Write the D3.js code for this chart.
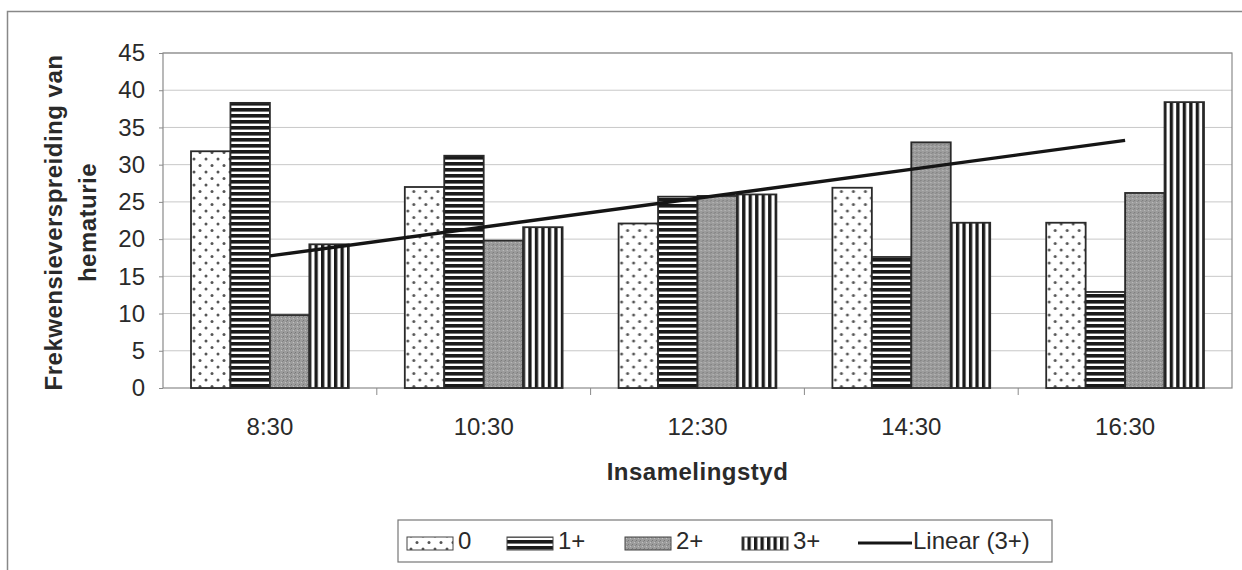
<!DOCTYPE html>
<html>
<head>
<meta charset="utf-8">
<script src="https://cdn.jsdelivr.net/npm/d3@7/dist/d3.min.js"></script>
<style>
  html, body { margin: 0; padding: 0; background: #fff; }
  svg { display: block; }
  text { font-family: "Liberation Sans", Arial, sans-serif; fill: #2a2a2a; }
</style>
</head>
<body>
<svg id="chart" width="1242" height="570"></svg>
<script>
// ---- data ----
const categories = ["8:30", "10:30", "12:30", "14:30", "16:30"];
const seriesNames = ["0", "1+", "2+", "3+"];
const values0 = [31.8, 27.0, 22.1, 26.9, 22.2];
const values1 = [38.3, 31.2, 25.7, 17.6, 12.9];
const values2 = [9.8, 19.8, 25.8, 33.0, 26.2];
const values3 = [19.3, 21.6, 26.0, 22.2, 38.4];
const yTicks = [0, 5, 10, 15, 20, 25, 30, 35, 40, 45];
const yTitleLines = ["Frekwensieverspreiding van", "hematurie"];
const xTitle = "Insamelingstyd";
const trendLabel = "Linear (3+)";

const seriesValues = [values0, values1, values2, values3];

// ---- layout ----
const svg = d3.select("#chart");
const plot = { left: 163, right: 1232, top: 53, bottom: 388 };

const defs = svg.append("defs");
// dots pattern (0)
const pDots = defs.append("pattern").attr("id", "pDots").attr("patternUnits", "userSpaceOnUse")
  .attr("width", 12).attr("height", 13);
pDots.append("rect").attr("width", 12).attr("height", 13).attr("fill", "#fff");
pDots.append("circle").attr("cx", 3).attr("cy", 3).attr("r", 1.5).attr("fill", "#555");
pDots.append("circle").attr("cx", 9).attr("cy", 9.5).attr("r", 1.5).attr("fill", "#555");
// horizontal stripes (1+)
const pH = defs.append("pattern").attr("id", "pH").attr("patternUnits", "userSpaceOnUse")
  .attr("width", 8).attr("height", 6);
pH.append("rect").attr("width", 8).attr("height", 6).attr("fill", "#fff");
pH.append("rect").attr("y", 0).attr("width", 8).attr("height", 3.6).attr("fill", "#1a1a1a");
// gray texture (2+)
const pG = defs.append("pattern").attr("id", "pG").attr("patternUnits", "userSpaceOnUse")
  .attr("width", 4).attr("height", 4);
pG.append("rect").attr("width", 4).attr("height", 4).attr("fill", "#9c9c9c");
pG.append("rect").attr("x", 0).attr("y", 0).attr("width", 1).attr("height", 1).attr("fill", "#777");
pG.append("rect").attr("x", 2).attr("y", 2).attr("width", 1).attr("height", 1).attr("fill", "#c0c0c0");
pG.append("rect").attr("x", 3).attr("y", 1).attr("width", 1).attr("height", 1).attr("fill", "#858585");
// vertical stripes (3+)
const pV = defs.append("pattern").attr("id", "pV").attr("patternUnits", "userSpaceOnUse")
  .attr("width", 6.5).attr("height", 8);
pV.append("rect").attr("width", 6.5).attr("height", 8).attr("fill", "#fff");
pV.append("rect").attr("x", 0).attr("width", 3.3).attr("height", 8).attr("fill", "#1a1a1a");

const fills = ["url(#pDots)", "url(#pH)", "url(#pG)", "url(#pV)"];

// outer chart border
svg.append("rect").attr("x", 7.5).attr("y", 11.5).attr("width", 1260).attr("height", 600)
  .attr("fill", "none").attr("stroke", "#888").attr("stroke-width", 1.5);

// scales
const x = d3.scaleBand().domain(categories).range([plot.left, plot.right])
  .paddingInner(0.262).paddingOuter(0.131);
const xs = d3.scaleBand().domain(seriesNames).range([0, x.bandwidth()]);
const y = d3.scaleLinear().domain([0, 45]).range([plot.bottom, plot.top]);

// gridlines
svg.append("g").selectAll("line").data(yTicks.filter(d => d > 0)).join("line")
  .attr("x1", plot.left).attr("x2", plot.right)
  .attr("y1", d => y(d)).attr("y2", d => y(d))
  .attr("stroke", "#c8c8c8").attr("stroke-width", 1);

// plot frame
svg.append("rect").attr("x", plot.left).attr("y", plot.top)
  .attr("width", plot.right - plot.left).attr("height", plot.bottom - plot.top)
  .attr("fill", "none").attr("stroke", "#8a8a8a").attr("stroke-width", 1.2);

// bars
const groups = svg.append("g").selectAll("g").data(categories).join("g")
  .attr("transform", c => `translate(${x(c)},0)`);
groups.selectAll("rect").data((c, i) => seriesNames.map((s, j) => ({ s, j, v: seriesValues[j][i] })))
  .join("rect")
  .attr("x", d => xs(d.s))
  .attr("width", xs.bandwidth())
  .attr("y", d => y(d.v))
  .attr("height", d => y(0) - y(d.v))
  .attr("fill", d => fills[d.j])
  .attr("stroke", "#2a2a2a").attr("stroke-width", 1.8);

// trend line (linear regression on 3+)
const n = values3.length;
const xsIdx = values3.map((_, i) => i + 1);
const mx = d3.mean(xsIdx), my = d3.mean(values3);
const slope = d3.sum(xsIdx.map((xi, i) => (xi - mx) * (values3[i] - my))) /
              d3.sum(xsIdx.map(xi => (xi - mx) * (xi - mx)));
const intercept = my - slope * mx;
const trendPts = [1, n].map(k => [x(categories[k - 1]) + x.bandwidth() / 2, y(intercept + slope * k)]);
svg.append("path").attr("d", d3.line()(trendPts))
  .attr("stroke", "#151515").attr("stroke-width", 3.4).attr("fill", "none");

// y axis
const yAxis = d3.axisLeft(y).tickValues(yTicks).tickSize(4).tickPadding(14);
const gy = svg.append("g").attr("transform", `translate(${plot.left},0)`).call(yAxis);
gy.select(".domain").remove();
gy.selectAll("line").attr("stroke", "#8a8a8a");
gy.selectAll("text").style("font-size", "24px").attr("fill", "#2a2a2a")
  .style("font-family", "'Liberation Sans', Arial, sans-serif");

// x axis
const xAxis = d3.axisBottom(x).tickSize(0).tickPadding(30);
const gx = svg.append("g").attr("transform", `translate(0,${plot.bottom})`).call(xAxis);
gx.select(".domain").remove();
gx.selectAll("text").style("font-size", "24px").attr("fill", "#2a2a2a")
  .style("font-family", "'Liberation Sans', Arial, sans-serif");
// category boundary ticks
svg.append("g").selectAll("line").data(categories.slice(1)).join("line")
  .attr("x1", c => x(c) - x.step() * x.paddingInner() / 2)
  .attr("x2", c => x(c) - x.step() * x.paddingInner() / 2)
  .attr("y1", plot.bottom).attr("y2", plot.bottom + 7)
  .attr("stroke", "#8a8a8a");

// axis titles
const yTitle = svg.append("text")
  .attr("transform", `translate(0,${(plot.top + plot.bottom) / 2 + 2}) rotate(-90)`)
  .attr("text-anchor", "middle")
  .style("font-size", "24px").style("font-weight", "bold")
  .style("letter-spacing", "0.5px");
yTitle.selectAll("tspan").data(yTitleLines).join("tspan")
  .attr("x", 0).attr("y", (d, i) => 62 + i * 34)
  .text(d => d);

svg.append("text").attr("x", (plot.left + plot.right) / 2).attr("y", 480)
  .attr("text-anchor", "middle")
  .style("font-size", "24px").style("font-weight", "bold")
  .style("letter-spacing", "0.5px")
  .text(xTitle);

// legend
const legend = svg.append("g");
legend.append("rect").attr("x", 398).attr("y", 520).attr("width", 654).attr("height", 42)
  .attr("fill", "#fff").attr("stroke", "#777").attr("stroke-width", 1.2);
const legendX = [407, 507, 625, 742];
seriesNames.forEach((s, j) => {
  legend.append("rect").attr("x", legendX[j]).attr("y", 537).attr("width", 46).attr("height", 13)
    .attr("fill", fills[j]).attr("stroke", "#444").attr("stroke-width", 1);
  legend.append("text").attr("x", legendX[j] + 51).attr("y", 549)
    .style("font-size", "24px").text(s);
});
legend.append("line").attr("x1", 858).attr("x2", 912).attr("y1", 543).attr("y2", 543)
  .attr("stroke", "#151515").attr("stroke-width", 3.2);
legend.append("text").attr("x", 913).attr("y", 549).style("font-size", "24px").text(trendLabel);
</script>
</body>
</html>
